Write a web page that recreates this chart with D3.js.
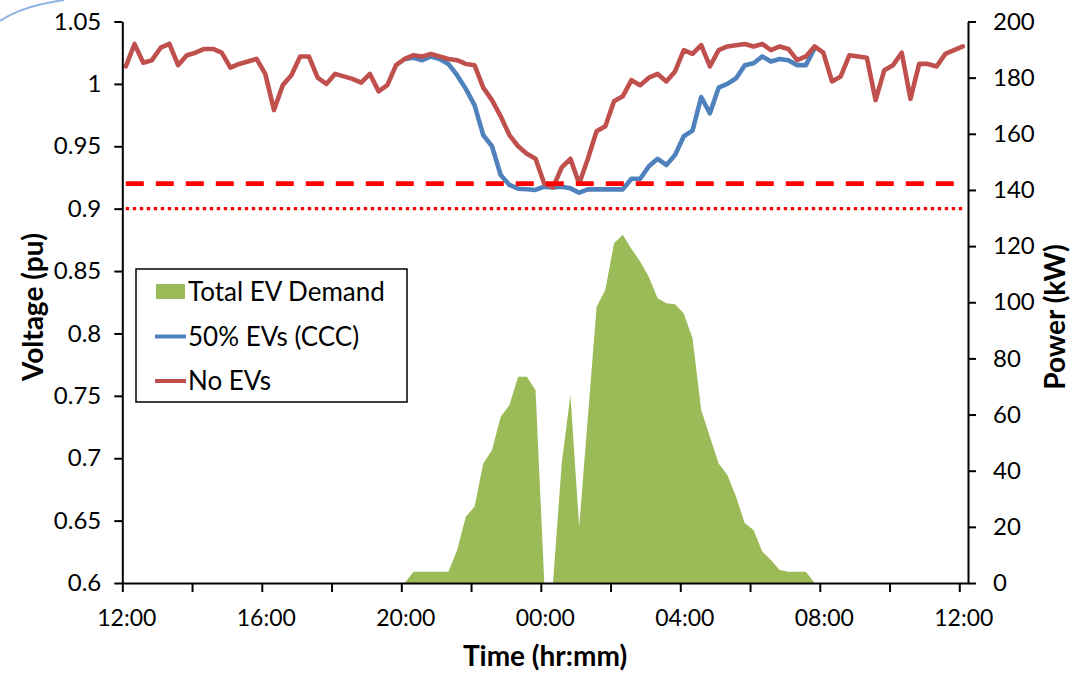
<!DOCTYPE html>
<html><head><meta charset="utf-8">
<script src="https://cdn.jsdelivr.net/npm/d3@7"></script>
<style>
body{margin:0;background:#fff;}
svg{display:block;font-family:Lato,"Open Sans",sans-serif;}
</style>
</head><body>
<svg id="chart" width="1084" height="674"></svg>
<script>
// ---- data ----
const sampleStartHour = 0.1;   // hours after 12:00 of first sample
const sampleStepHours = 0.25;  // 15-minute samples

// Voltage with no EVs (pu)
const noEVs = [
 1.014,1.032,1.017,1.019,1.029,1.032,1.015,1.023,1.025,1.028,
 1.028,1.025,1.013,1.016,1.018,1.020,1.008,0.979,0.999,1.007,
 1.022,1.022,1.005,1.000,1.008,1.006,1.004,1.001,1.008,0.994,
 0.999,1.015,1.020,1.023,1.022,1.024,1.022,1.020,1.019,1.016,
 1.015,0.997,0.987,0.974,0.959,0.950,0.944,0.940,0.920,0.917,
 0.933,0.940,0.920,0.940,0.962,0.966,0.986,0.990,1.003,0.999,
 1.005,1.008,1.002,1.010,1.027,1.024,1.031,1.014,1.027,1.030,
 1.031,1.032,1.030,1.032,1.027,1.030,1.028,1.019,1.022,1.030,
 1.025,1.002,1.006,1.023,1.022,1.021,0.987,1.011,1.015,1.025,
 0.988,1.016,1.016,1.014,1.024,1.027,1.030
];

// Voltage with 50% EVs (CCC), samples from index ev50StartIndex
const ev50StartIndex = 32;
const ev50 = [
 1.020,1.021,1.019,1.022,1.020,1.016,1.007,0.996,0.983,0.959,
 0.950,0.927,0.919,0.916,0.9155,0.915,0.9176,0.917,0.9176,0.9163,
 0.9128,0.9155,0.9155,0.9155,0.9155,0.9155,0.924,0.924,0.934,0.940,
 0.935,0.943,0.958,0.9625,0.9895,0.9764,0.997,1.000,1.0045,1.015,
 1.0165,1.022,1.018,1.020,1.019,1.015,1.015,1.0285
];

// Total EV demand (kW)
const evDemand = [
 0,0,0,0,0,0,0,0,0,0,
 0,0,0,0,0,0,0,0,0,0,
 0,0,0,0,0,0,0,0,0,0,
 0,0,0,4,4,4,4,4,11.7,23.6,
 27.2,42.6,47.4,59.2,63.4,73.5,73.5,68.7,0,0,
 42.6,67,20,59,98.4,104.4,121,124,119,114.5,
 109,101.4,99.6,99.3,96,87.2,61.6,52.1,42.6,38.5,
 30.7,21.3,18.9,11.2,8.2,4.6,4,4,4,0,
 0,0,0,0,0,0,0,0,0,0,
 0,0,0,0,0,0,0
];

const limitDashed = 0.92;
const limitDotted = 0.90;

const leftTicks = [0.6,0.65,0.7,0.75,0.8,0.85,0.9,0.95,1,1.05];
const rightTicks = [0,20,40,60,80,100,120,140,160,180,200];
const timeTicks = [0,2,4,6,8,10,12,14,16,18,20,22,24];
const timeLabels = {0:"12:00",4:"16:00",8:"20:00",12:"00:00",16:"04:00",20:"08:00",24:"12:00"};

const legendItems = [
 {label:"Total EV Demand", type:"area", color:"#9BBB59"},
 {label:"50% EVs (CCC)", type:"line", color:"#4F81BD"},
 {label:"No EVs", type:"line", color:"#C0504D"}
];

// ---- layout ----
const svg = d3.select("#chart");
const L = 122.3, R = 968, T = 21.5, B = 583;

const times = noEVs.map((_, i) => sampleStartHour + i * sampleStepHours);

const x = d3.scaleLinear().domain([0, 24.25]).range([L, R]);
const yV = d3.scaleLinear().domain([0.6, 1.05]).range([B, T]);
const yP = d3.scaleLinear().domain([0, 200]).range([B, T]);

// decorative arc (top-left)
svg.append("path").attr("d","M0,21 Q22,6 64,0").attr("fill","none")
  .attr("stroke","#8EB4E3").attr("stroke-width",2);

// EV demand area
const area = d3.area().x((d,i)=>x(times[i])).y0(yP(0)).y1(d=>yP(d));
svg.append("path").datum(evDemand).attr("d", area).attr("fill","#9BBB59");

// voltage lines
const lineV = d3.line().x(d=>x(d.t)).y(d=>yV(d.v));
const ev50Pts = ev50.map((v,i)=>({t:times[ev50StartIndex+i], v}));
const noPts = noEVs.map((v,i)=>({t:times[i], v}));

svg.append("path").datum(ev50Pts).attr("d", lineV).attr("fill","none")
  .attr("stroke","#4F81BD").attr("stroke-width",4.6).attr("stroke-linejoin","round").attr("stroke-linecap","round");
svg.append("path").datum(noPts).attr("d", lineV).attr("fill","none")
  .attr("stroke","#C0504D").attr("stroke-width",4.6).attr("stroke-linejoin","round").attr("stroke-linecap","round");

// limit lines
svg.append("line").attr("x1",x(times[0])).attr("x2",x(times[times.length-1]))
  .attr("y1",yV(limitDashed)).attr("y2",yV(limitDashed))
  .attr("stroke","#FF0000").attr("stroke-width",4.8).attr("stroke-dasharray","18,12");
svg.append("line").attr("x1",x(times[0])).attr("x2",x(times[times.length-1]))
  .attr("y1",yV(limitDotted)).attr("y2",yV(limitDotted))
  .attr("stroke","#FF0000").attr("stroke-width",3.4).attr("stroke-dasharray","3.4,3.6");

// axes
const fmtV = d => d3.format("")(+d.toFixed(2));
const axL = svg.append("g").attr("transform",`translate(${L},0)`)
  .call(d3.axisLeft(yV).tickValues(leftTicks).tickFormat(fmtV).tickSize(8).tickSizeOuter(0).tickPadding(13));
const axR = svg.append("g").attr("transform",`translate(${R},0)`)
  .call(d3.axisRight(yP).tickValues(rightTicks).tickSize(8).tickSizeOuter(0).tickPadding(17));
const axB = svg.append("g").attr("transform",`translate(0,${B})`)
  .call(d3.axisBottom(x).tickValues(timeTicks).tickFormat(d=>timeLabels[d]||"").tickSize(9).tickSizeOuter(0).tickPadding(18));

[axL,axR,axB].forEach(g=>{
  g.select(".domain").attr("stroke","#000").attr("stroke-width",2);
  g.selectAll(".tick line").attr("stroke","#000").attr("stroke-width",2);
  g.selectAll("text").attr("font-size",24).attr("fill","#000").attr("font-family","Lato");
});
axB.selectAll("text").attr("font-size",23).attr("dx",4);

// axis titles
svg.append("text").attr("transform","translate(43,307) rotate(-90)")
  .attr("text-anchor","middle").attr("font-size",28).attr("font-weight","bold").text("Voltage (pu)");
svg.append("text").attr("transform","translate(1065,317) rotate(-90)")
  .attr("text-anchor","middle").attr("font-size",28).attr("font-weight","bold").text("Power (kW)");
svg.append("text").attr("x",545).attr("y",666)
  .attr("text-anchor","middle").attr("font-size",28).attr("font-weight","bold").text("Time (hr:mm)");

// legend
const lg = svg.append("g");
lg.append("rect").attr("x",136).attr("y",269).attr("width",271).attr("height",133)
  .attr("fill","#fff").attr("stroke","#000").attr("stroke-width",1.5);
legendItems.forEach((it,i)=>{
  const cy = 292 + i*44.5;
  if(it.type==="area"){
    lg.append("rect").attr("x",156).attr("y",cy-8).attr("width",29).attr("height",15).attr("fill",it.color);
  } else {
    lg.append("line").attr("x1",155).attr("x2",186).attr("y1",cy).attr("y2",cy)
      .attr("stroke",it.color).attr("stroke-width",4);
  }
  lg.append("text").attr("x",188).attr("y",cy+9).attr("font-size",26).attr("fill","#000").text(it.label);
});
</script>
</body></html>
